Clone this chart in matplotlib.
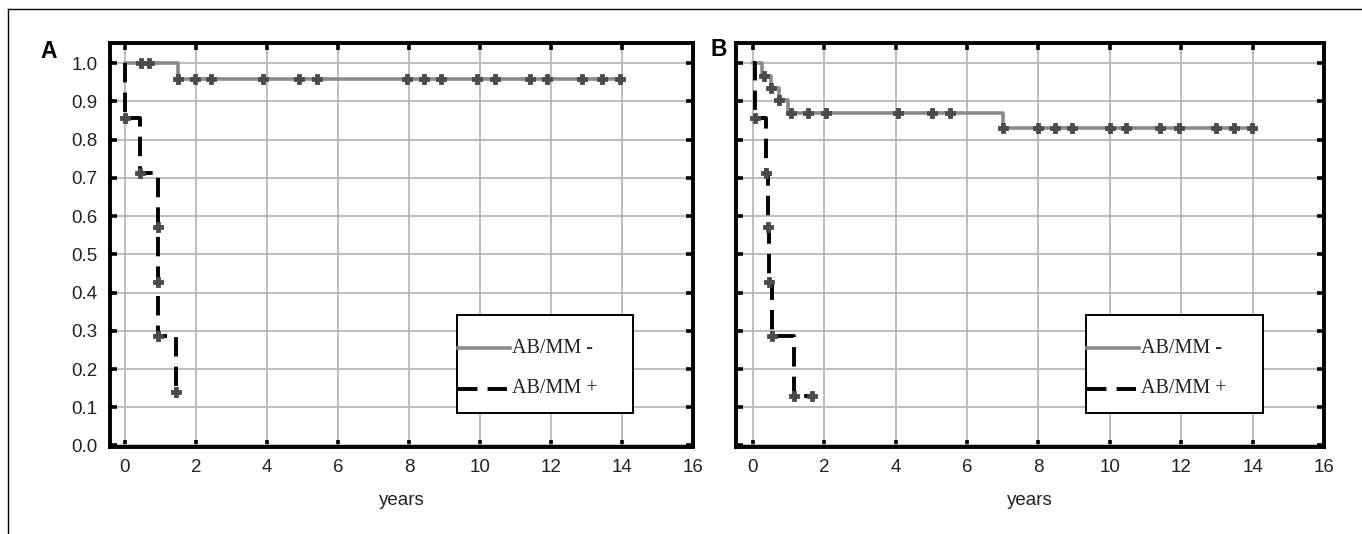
import numpy as np
import matplotlib
matplotlib.use('Agg')
import matplotlib.pyplot as plt
from matplotlib.patches import Rectangle
from matplotlib.lines import Line2D

plt.rcParams['font.family'] = ['Liberation Sans', 'DejaVu Sans']

# ---- data ----
# panel A, AB/MM - (grey, solid)
a_neg_times = [0.0, 1.5]
a_neg_surv = [1.0, 0.96]
a_neg_end = 13.95
a_neg_censor = [0.45, 0.69, 1.5, 1.97, 2.43, 3.90, 4.91, 5.42, 7.95, 8.43, 8.89,
                9.93, 10.41, 11.40, 11.88, 12.86, 13.43, 13.93]
# panel A, AB/MM + (black, dashed)
a_pos_times = [0.0, 0.0, 0.42, 0.92, 0.92, 0.92, 1.44]
a_pos_surv = [1.0, 0.857, 0.714, 0.571, 0.429, 0.286, 0.14]
a_pos_end = 1.44
a_pos_censor = []

# panel B, AB/MM -
b_neg_times = [0.0, 0.25, 0.5, 0.73, 1.0, 7.0]
b_neg_surv = [1.0, 0.967, 0.935, 0.903, 0.87, 0.83]
b_neg_end = 13.97
b_neg_censor = [0.32, 0.5, 0.73, 1.08, 1.56, 2.04, 4.08, 5.02, 5.52, 7.02, 8.0,
                8.47, 8.95, 10.0, 10.46, 11.42, 11.94, 12.97, 13.47, 13.97]
# panel B, AB/MM +
b_pos_times = [0.0, 0.05, 0.375, 0.42, 0.45, 0.535, 1.15]
b_pos_surv = [1.0, 0.857, 0.714, 0.571, 0.429, 0.286, 0.13]
b_pos_end = 1.65
b_pos_censor = [1.65]

legend_labels = ['AB/MM -', 'AB/MM +']
x_ticks = [0, 2, 4, 6, 8, 10, 12, 14, 16]
y_ticks = [0.0, 0.1, 0.2, 0.3, 0.4, 0.5, 0.6, 0.7, 0.8, 0.9, 1.0]

GREY = '#8a8a8a'
MARK = '#4a4a4a'
DASH = (0, (5, 2.6))


def level_at(times, surv, t):
    idx = np.searchsorted(times, t, side='right') - 1
    return np.asarray(surv)[idx]


def draw_km(ax, times, surv, end, censor, events, **kw):
    x = np.r_[times, end]
    y = np.r_[surv, surv[-1]]
    ax.step(x, y, where='post', zorder=3, **kw)
    mx = list(censor)
    my = list(level_at(times, surv, censor)) if len(censor) else []
    if events:
        mx = list(times[1:]) + mx
        my = list(surv[1:]) + my
    ax.plot(mx, my, linestyle='none', marker='P', ms=6.5, mew=0.6,
            color=MARK, zorder=4)


def draw_legend(ax):
    ax.add_patch(Rectangle((0.595, 0.084), 0.302, 0.243, transform=ax.transAxes,
                           facecolor='white', edgecolor='black', lw=1.4, zorder=6))
    ys = [0.245, 0.144]
    styles = [dict(color=GREY, lw=2.6, linestyle='-'),
              dict(color='black', lw=2.8, linestyle=DASH)]
    for y, lab, st in zip(ys, legend_labels, styles):
        ax.add_line(Line2D([0.597, 0.686], [y, y], transform=ax.transAxes,
                           zorder=7, **st))
        ax.text(0.689, y, lab, transform=ax.transAxes, va='center', ha='left',
                family=['Liberation Serif', 'DejaVu Serif'], fontsize=14.5,
                color='#222222', zorder=7)


def style_axes(ax, xlim, show_ylabels):
    ax.set_xlim(*xlim)
    ax.set_ylim(-0.004, 1.053)
    ax.set_xticks(x_ticks)
    ax.set_yticks(y_ticks)
    ax.set_yticklabels([f'{v:.1f}' for v in y_ticks] if show_ylabels else [])
    ax.grid(True, color='#b3b3b3', linewidth=1.2)
    ax.set_axisbelow(True)
    ax.tick_params(direction='in', length=5, width=2.6, top=True, right=True,
                   labelsize=13.5, labelcolor='#222222', pad=9)
    for s in ax.spines.values():
        s.set_linewidth(2.8)
    ax.set_xlabel('years', fontsize=13.5, color='#222222', labelpad=11)


W, H = 1362, 534
fig = plt.figure(figsize=(W / 100, H / 100), dpi=100)
ax_a = fig.add_axes([110 / W, (H - 447) / H, 583 / W, 404 / H])
ax_b = fig.add_axes([736 / W, (H - 447) / H, 588 / W, 404 / H])

draw_km(ax_a, a_neg_times, a_neg_surv, a_neg_end, a_neg_censor, False,
        color=GREY, lw=2.6)
draw_km(ax_a, a_pos_times, a_pos_surv, a_pos_end, a_pos_censor, True,
        color='black', lw=2.8, linestyle=DASH)
draw_km(ax_b, b_neg_times, b_neg_surv, b_neg_end, b_neg_censor, False,
        color=GREY, lw=2.6)
draw_km(ax_b, b_pos_times, b_pos_surv, b_pos_end, b_pos_censor, True,
        color='black', lw=2.8, linestyle=DASH)

style_axes(ax_a, (-0.42, 15.87), True)
style_axes(ax_b, (-0.47, 15.96), False)
draw_legend(ax_a)
draw_legend(ax_b)

fig.text(40 / W, 1 - 52 / H, 'A', fontsize=16.5, fontweight='bold', va='center')
fig.text(711 / W, 1 - 50 / H, 'B', fontsize=16.5, fontweight='bold', va='center')

# thin frame around the figure (only left and top edges visible)
fig.add_artist(Line2D([8 / W, 8 / W], [0, 1 - 9 / H], transform=fig.transFigure,
                      color='black', lw=1.0))
fig.add_artist(Line2D([8 / W, 1], [1 - 9 / H, 1 - 9 / H], transform=fig.transFigure,
                      color='black', lw=1.0))

fig.savefig('out.png', dpi=100, facecolor='white')
